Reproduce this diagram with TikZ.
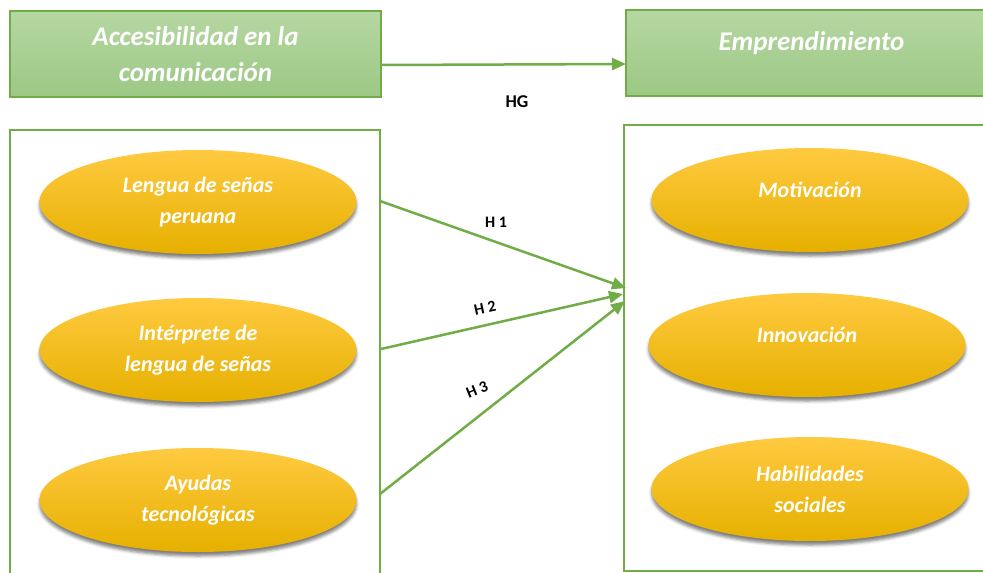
\documentclass[tikz,border=0pt]{standalone}
\usepackage{fontspec}
\setmainfont{Carlito}
\usetikzlibrary{arrows.meta,shadows.blur,shapes.geometric}
\definecolor{grn}{HTML}{70AD47}
\definecolor{gtop}{HTML}{B6D7A3}
\definecolor{gbot}{HTML}{9CC884}
\definecolor{ytop}{HTML}{FFCA40}
\definecolor{ymid}{HTML}{FFC000}
\definecolor{ybot}{HTML}{E6B000}
\newcommand{\upby}[1]{\raisebox{10pt}[\height][\depth]{#1}}
\tikzset{
  hdrbox/.style={draw=grn, line width=1.5pt, top color=gtop, bottom color=gbot,
    minimum width=371pt, minimum height=86pt, inner sep=0pt, outer sep=0pt,
    text=white, font=\fontsize{27}{36}\selectfont\bfseries\itshape, align=center},
  frame/.style={draw=grn, line width=2pt, minimum width=370pt, inner sep=0pt, outer sep=0pt},
  oval/.style={ellipse, top color=ytop, middle color=ymid, bottom color=ybot,
    minimum width=317pt, minimum height=104pt, inner sep=0pt, text=white,
    font=\fontsize{22}{31}\selectfont\bfseries\itshape, align=center,
    blur shadow={shadow xshift=0pt, shadow yshift=-4pt, shadow blur radius=3pt, shadow opacity=50}},
  link/.style={draw=grn, line width=2.5pt, -{Triangle[length=14pt,width=12pt]}},
  hlab/.style={font=\fontsize{16}{16}\selectfont\bfseries, inner sep=0pt},
}
\begin{document}
\begin{tikzpicture}[x=1pt, y=-1pt]
\useasboundingbox (0,0) rectangle (983,573);
% top boxes
\node[hdrbox] (tl) at (195.5,54) {Accesibilidad en la\\comunicación};
\node[hdrbox] (tr) at (811.5,53) {\upby{Emprendimiento}};
\draw[link] ([yshift=-11pt]tl.east) -- ([yshift=-11pt]tr.west);
\node[font=\fontsize{18}{18}\selectfont\bfseries] (hg) at (517,102) {HG};
% frames
\node[frame, minimum height=460pt] (L) at (195,359.5) {};
\node[frame, minimum height=446pt] (R) at (809,348) {};
% ovals left
\node[oval] (o1) at (198,202) {Lengua de señas\\peruana};
\node[oval] (o2) at (198,350) {Intérprete de\\lengua de señas};
\node[oval] (o3) at (198,500) {Ayudas\\tecnológicas};
% ovals right
\node[oval] (m1) at (810,200) {\upby{Motivación}};
\node[oval] (m2) at (807,345) {\upby{Innovación}};
\node[oval] (m3) at (810,489) {Habilidades\\sociales};
% hypothesis arrows
\coordinate (s1) at (380,201);
\coordinate (s2) at (381,349);
\coordinate (s3) at (380,494);
\coordinate (e1) at (626,288);
\coordinate (e2) at (623,294);
\coordinate (e3) at (625,301);
\draw[link] (s1) -- (e1);
\draw[link] (s2) -- (e2);
\draw[link] (s3) -- (e3);
\node[hlab] (l1) at (496,222) {H 1};
\node[hlab, rotate=12] (l2) at (485,308) {H 2};
\node[hlab, rotate=22] (l3) at (477,390) {H 3};
\end{tikzpicture}
\end{document}
